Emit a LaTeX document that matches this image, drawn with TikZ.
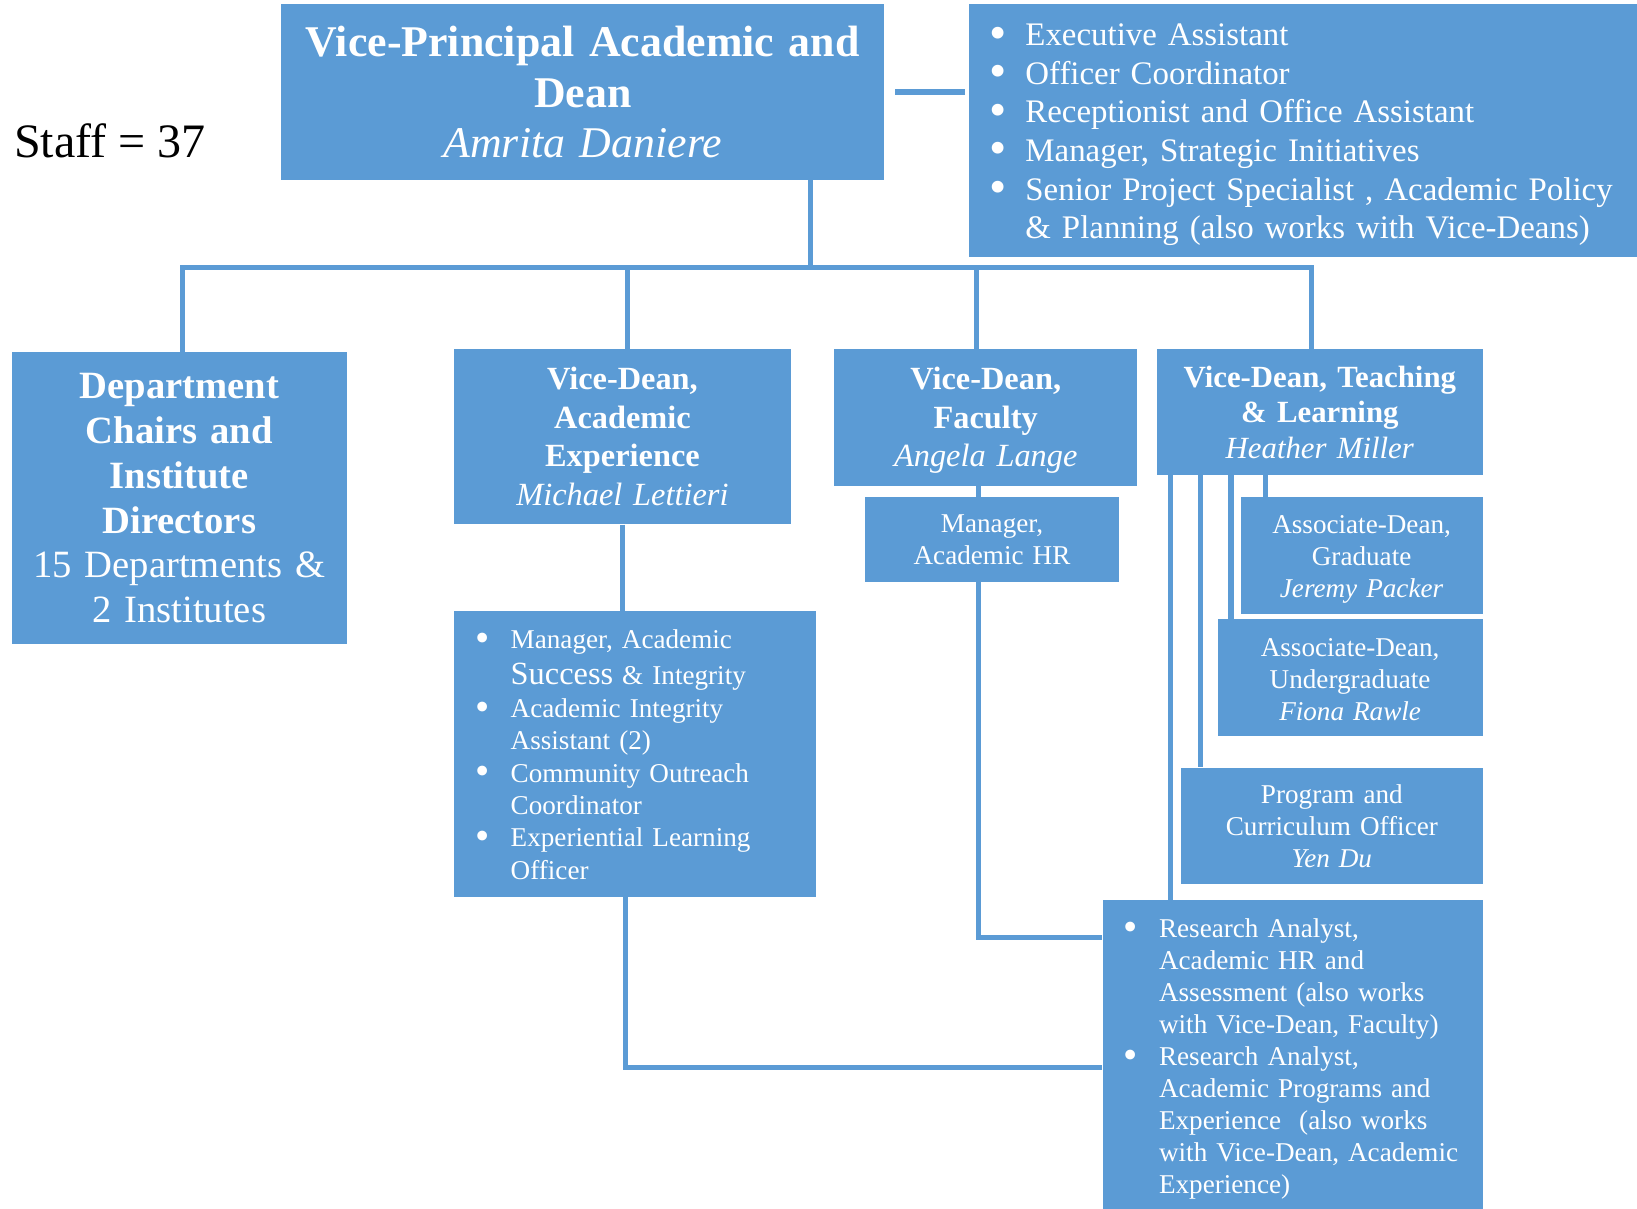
\documentclass[tikz,border=0pt]{standalone}
\usepackage{fontspec}
\setmainfont{Liberation Serif}
\definecolor{boxblue}{HTML}{5B9BD5}
\newcommand{\bitem}[1]{\par\noindent\hangindent=44pt\hangafter=1\makebox[44pt][l]{\hspace{10pt}\raisebox{-0.1em}{\scalebox{1.5}{\textbullet}}}#1\par}

\begin{document}
\begin{tikzpicture}[x=1pt,y=-1pt,
	box/.style={fill=boxblue,text=white,inner sep=0pt,anchor=north west,align=center},
	listbox/.style={box,align=left,inner xsep=10pt},
	link/.style={draw=boxblue,line width=5pt}]
	\useasboundingbox (0,0) rectangle (1568,1158);
	\node[anchor=west,font=\fontsize{46}{46}\selectfont] (staff) at (10,135) {Staff = 37};
	\node[box,text width=578pt,minimum height=168pt,font=\fontsize{42}{48.5}\selectfont] (vp) at (269,4)
		{\textbf{Vice-Principal Academic and}\\\textbf{Dean}\\\textit{Amrita Daniere}};
	\node[listbox,text width=620pt,minimum height=242pt,font=\fontsize{31.5}{37}\selectfont] (office) at (928,4) {%
		\bitem{Executive Assistant}
		\bitem{Officer Coordinator}
		\bitem{Receptionist and Office Assistant}
		\bitem{Manager, Strategic Initiatives}
		\bitem{Senior Project Specialist , Academic Policy\newline \& Planning (also works with Vice-Deans)}
		\vspace{8pt}};
	\node[box,text width=321pt,minimum height=280pt,font=\fontsize{37}{43}\selectfont] (dept) at (11,337)
		{\textbf{Department}\\\textbf{Chairs and}\\\textbf{Institute}\\\textbf{Directors}\\15 Departments \&\\2 Institutes};
	\node[box,text width=322pt,minimum height=168pt,font=\fontsize{31}{37}\selectfont] (ae) at (435,334)
		{\textbf{Vice-Dean,}\\\textbf{Academic}\\\textbf{Experience}\\\textit{Michael Lettieri}};
	\node[listbox,text width=326pt,minimum height=274pt,font=\fontsize{26}{31}\selectfont] (aelist) at (435,585) {%
		\bitem{Manager, Academic\newline \rule{0pt}{28.4pt}{\fontsize{31}{31}\selectfont Success} \& Integrity}
		\bitem{Academic Integrity\newline Assistant (2)}
		\bitem{Community Outreach\newline Coordinator}
		\bitem{Experiential Learning\newline Officer}
		\vspace{12pt}};
	\node[box,text width=290pt,minimum height=131pt,font=\fontsize{31}{37}\selectfont] (fac) at (799,334)
		{\textbf{Vice-Dean,}\\\textbf{Faculty}\\\textit{Angela Lange}\par\vspace{-6pt}};
	\node[box,text width=244pt,minimum height=81pt,font=\fontsize{26}{30.7}\selectfont] (mgr) at (828,476)
		{Manager,\\Academic HR};
	\node[box,text width=312pt,minimum height=121pt,font=\fontsize{29.5}{34}\selectfont] (tl) at (1108,334)
		{\textbf{Vice-Dean, Teaching}\\\textbf{\& Learning}\\\textit{Heather Miller}};
	\node[box,text width=232pt,minimum height=112pt,font=\fontsize{26}{30.7}\selectfont] (grad) at (1188,476)
		{Associate-Dean,\\Graduate\\\textit{Jeremy Packer}\par\vspace{-7pt}};
	\node[box,text width=254pt,minimum height=112pt,font=\fontsize{26}{30.7}\selectfont] (ugrad) at (1166,593)
		{Associate-Dean,\\Undergraduate\\\textit{Fiona Rawle}\par\vspace{-4pt}};
	\node[box,text width=289pt,minimum height=112pt,font=\fontsize{26}{30.7}\selectfont] (prog) at (1131,735)
		{Program and\\Curriculum Officer\\\textit{Yen Du}};
	\node[listbox,text width=344pt,minimum height=296pt,font=\fontsize{26}{30.7}\selectfont] (res) at (1056,862) {%
		\bitem{Research Analyst,\newline Academic HR and\newline Assessment (also works\newline with Vice-Dean, Faculty)}
		\bitem{Research Analyst,\newline Academic Programs and\newline Experience\ \ (also works\newline with Vice-Dean, Academic\newline Experience)}
		\vspace{4pt}};

	\coordinate (hub) at (776,256);
	\draw[link] (vp.south -| hub) -- (hub);
	\draw[link] ([xshift=3pt]dept.north) |- (hub) -| ([xshift=-8pt]tl.north);
	\draw[link] ([xshift=5pt]ae.north) -- ([xshift=5pt]ae.north |- hub);
	\draw[link] ([xshift=-9pt]fac.north) -- ([xshift=-9pt]fac.north |- hub);
	\draw[link] ([xshift=10pt]vp.east) -- ([xshift=-4pt]vp.east -| office.west);
	\draw[link] (ae.south) -- (ae.south |- aelist.north);
	\draw[link] ([xshift=3pt]aelist.south -| ae.south) |- ([yshift=-12pt]res.west);
	\draw[link] ([xshift=-7pt]fac.south) -- ([xshift=-7pt]fac.south |- mgr.north);
	\draw[link] ([xshift=-13pt]mgr.south) |- ([yshift=112pt]res.west);
	\foreach \dx/\n in {13/res,42/prog,71/ugrad,104/grad}
		\draw[link] ([xshift=\dx pt]tl.south west) -- ([xshift=\dx pt]tl.south west |- \n.north);
\end{tikzpicture}
\end{document}
